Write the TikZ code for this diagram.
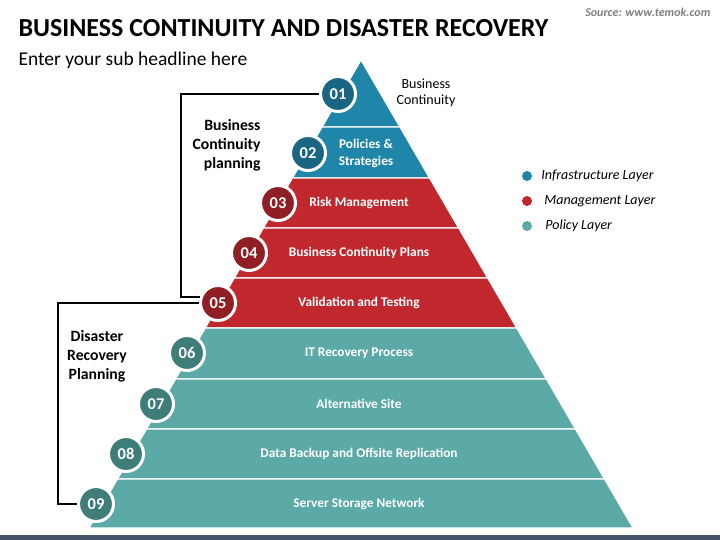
\documentclass[tikz,border=0pt]{standalone}
\usepackage{fontspec}
\setmainfont{Carlito}
\usetikzlibrary{positioning}
\definecolor{infra}{HTML}{1F86AA}
\definecolor{infradark}{HTML}{1A6582}
\definecolor{mgmt}{HTML}{C1282E}
\definecolor{mgmtdark}{HTML}{8F1F25}
\definecolor{policy}{HTML}{5BAAA8}
\definecolor{policydark}{HTML}{3F7D79}
\definecolor{barcol}{HTML}{44546A}
\definecolor{srcgray}{HTML}{7F7F7F}

\begin{document}
\begin{tikzpicture}[x=1pt, y=-1pt,
    num/.style={circle, minimum size=35pt, inner sep=0pt, draw=white, line width=3pt, text=white, font=\fontsize{16.5}{16.5}\selectfont\bfseries},
    band/.style={draw=white, line width=1.2pt},
    bandtext/.style={text=white, font=\fontsize{13.3}{17}\selectfont\bfseries, align=center},
    side/.style={font=\fontsize{15.7}{19}\selectfont\bfseries},
    dot/.style={circle, minimum size=10pt, inner sep=0pt},
    key/.style={inner sep=0pt, font=\fontsize{14}{14}\selectfont\itshape},
    bracket/.style={line width=1.8pt}]
  \useasboundingbox (0,0) rectangle (720,540);

  % Headline
  \node[anchor=west, font=\fontsize{26}{26}\selectfont\bfseries] (title) at (15,28) {BUSINESS CONTINUITY AND DISASTER RECOVERY};
  \node[anchor=west, font=\fontsize{19.5}{19.5}\selectfont] (sub) at (15,60) {Enter your sub headline here};
  \node[anchor=east, text=srcgray, font=\fontsize{12}{12}\selectfont\bfseries\itshape] (src) at (714,12) {Source: www.temok.com};

  % Pyramid bands
  \foreach \a/\b/\c in {60/127/infra, 127/178/infra, 178/228/mgmt, 228/278/mgmt, 278/328/mgmt,
                        328/379/policy, 379/429/policy, 429/479/policy, 479/528/policy}
    \filldraw[band, fill=\c] ({361-0.5812*(\a-60)},\a) -- ({361+0.5812*(\a-60)},\a)
      -- ({361+0.5812*(\b-60)},\b) -- ({361-0.5812*(\b-60)},\b) -- cycle;

  % Define nodes
  \foreach \n/\x/\y/\c in {01/338/94/infradark, 02/308/153/infradark, 03/278/203/mgmtdark,
                           04/249/253/mgmtdark, 05/218/303/mgmtdark, 06/187/353/policydark,
                           07/156/404/policydark, 08/126/454/policydark, 09/96/504/policydark}
    \node[num, fill=\c] (c\n) at (\x,\y) {\n};

  \node[bandtext] (t02) at (366,153) {Policies \&\\Strategies};
  \foreach \n/\y/\t in {03/203/Risk Management, 04/253/Business Continuity Plans,
                        05/303/Validation and Testing, 06/353/IT Recovery Process,
                        07/404/Alternative Site, 08/454/Data Backup and Offsite Replication,
                        09/504/Server Storage Network}
    \node[bandtext] (t\n) at (359,\y) {\t};

  \node[align=center, font=\fontsize{14}{16.5}\selectfont] (t01) at (426,93) {Business\\Continuity};
  \node[side, align=right, anchor=east] (bcp) at (264,145) {Business\\Continuity\\planning};
  \node[side, align=center] (drp) at (97,356) {Disaster\\Recovery\\Planning};

  % Connect the nodes
  \draw[bracket] (c01.west) -- ++(-138,0) |- (c05.162);
  \draw[bracket] (c05.west) -- ++(-141,0) |- (c09.west);

  % Legend
  \node[dot, fill=infra] (d1) at (527,176) {};
  \node[dot, fill=mgmt] (d2) at (527,201) {};
  \node[dot, fill=policy] (d3) at (527,226) {};
  \node[key, right=9pt of d1] (k1) {Infrastructure Layer};
  \node[key, right=12pt of d2] (k2) {Management Layer};
  \node[key, right=13pt of d3] (k3) {Policy Layer};

  \fill[barcol] (0,535) rectangle (720,540);
\end{tikzpicture}
\end{document}
